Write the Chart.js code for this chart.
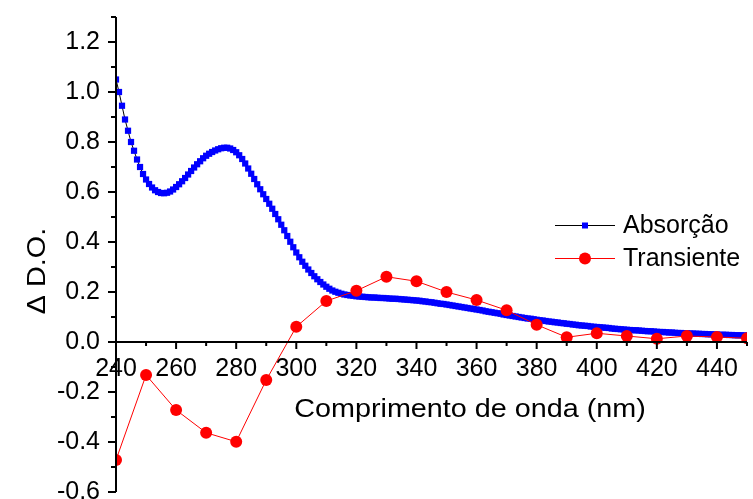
<!DOCTYPE html>
<html>
<head>
<meta charset="utf-8">
<script src="https://cdn.jsdelivr.net/npm/chart.js@4.4.1/dist/chart.umd.min.js"></script>
<style>
  html, body { margin: 0; padding: 0; background: #fff; }
  #wrap { width: 753px; height: 499px; position: relative; }
</style>
</head>
<body>
<div id="wrap"><canvas id="chart"></canvas></div>
<script>
const FONT = '"Liberation Sans", Arial, Helvetica, sans-serif';

// steady-state absorption, one reading per nm from 240 nm
const absStartNm = 240;
const absorbance = [
  1.050, 1.000, 0.945, 0.890, 0.845, 0.800, 0.765, 0.730, 0.700, 0.672,
  0.650, 0.632, 0.618, 0.607, 0.600, 0.596, 0.595, 0.597, 0.602, 0.610,
  0.620, 0.631, 0.643, 0.656, 0.670, 0.684, 0.698, 0.711, 0.723, 0.735,
  0.745, 0.753, 0.760, 0.766, 0.771, 0.775, 0.777, 0.777, 0.774, 0.768,
  0.759, 0.747, 0.732, 0.714, 0.694, 0.673, 0.652, 0.631, 0.611, 0.591,
  0.572, 0.553, 0.533, 0.512, 0.491, 0.469, 0.447, 0.424, 0.401, 0.379,
  0.358, 0.339, 0.321, 0.305, 0.290, 0.276, 0.263, 0.251, 0.240, 0.230,
  0.221, 0.213, 0.206, 0.201, 0.197, 0.193, 0.190, 0.188, 0.186, 0.185,
  0.183, 0.182, 0.181, 0.180, 0.179, 0.178, 0.178, 0.177, 0.176, 0.176,
  0.175, 0.174, 0.173, 0.173, 0.172, 0.171, 0.170, 0.169, 0.168, 0.167,
  0.166, 0.165, 0.163, 0.162, 0.160, 0.159, 0.157, 0.155, 0.153, 0.152,
  0.150, 0.148, 0.146, 0.144, 0.142, 0.140, 0.138, 0.136, 0.134, 0.132,
  0.130, 0.128, 0.126, 0.123, 0.121, 0.119, 0.117, 0.115, 0.113, 0.110,
  0.108, 0.106, 0.104, 0.102, 0.100, 0.098, 0.096, 0.094, 0.093, 0.091,
  0.089, 0.087, 0.086, 0.084, 0.082, 0.081, 0.079, 0.078, 0.076, 0.075,
  0.073, 0.072, 0.070, 0.069, 0.067, 0.066, 0.065, 0.064, 0.062, 0.061,
  0.060, 0.059, 0.058, 0.057, 0.056, 0.054, 0.053, 0.052, 0.051, 0.050,
  0.049, 0.048, 0.047, 0.047, 0.046, 0.045, 0.044, 0.043, 0.043, 0.042,
  0.041, 0.040, 0.040, 0.039, 0.038, 0.038, 0.037, 0.036, 0.036, 0.035,
  0.035, 0.034, 0.034, 0.033, 0.033, 0.032, 0.032, 0.031, 0.031, 0.030,
  0.030, 0.029, 0.029, 0.029, 0.028, 0.028, 0.027, 0.027, 0.027, 0.026,
  0.026
];

// transient spectrum, every 10 nm
const transWavelength = [240, 250, 260, 270, 280, 290, 300, 310, 320, 330, 340,
  350, 360, 370, 380, 390, 400, 410, 420, 430, 440, 450];
const transient = [-0.472, -0.132, -0.272, -0.363, -0.399, -0.152, 0.061, 0.164,
  0.205, 0.261, 0.243, 0.200, 0.168, 0.127, 0.069, 0.019, 0.035, 0.024, 0.013,
  0.024, 0.020, 0.015];

const xTicks = [240, 260, 280, 300, 320, 340, 360, 380, 400, 420, 440];
const xMinorTicks = [250, 270, 290, 310, 330, 350, 370, 390, 410, 430, 450];
const yTicks = [-0.6, -0.4, -0.2, 0.0, 0.2, 0.4, 0.6, 0.8, 1.0, 1.2];
const yMinorTicks = [-0.5, -0.3, -0.1, 0.1, 0.3, 0.5, 0.7, 0.9, 1.1, 1.3];

const seriesNames = ['Absorção', 'Transiente'];
const xTitle = 'Comprimento de onda (nm)';
const yTitle = 'Δ D.O.';

const absPoints = absorbance.map((v, i) => ({ x: absStartNm + i, y: v }));
const transPoints = transient.map((v, i) => ({ x: transWavelength[i], y: v }));

// axis lines, major/minor tick marks, titles and the legend box
const axesPlugin = {
  id: 'originAxes',
  afterDatasetsDraw(chart) {
    const { ctx, chartArea: a, scales: { x, y } } = chart;
    const y0 = y.getPixelForValue(0);
    ctx.save();
    ctx.strokeStyle = '#000';
    ctx.lineWidth = 2;
    ctx.beginPath();
    ctx.moveTo(a.left, a.top);
    ctx.lineTo(a.left, a.bottom);
    ctx.moveTo(a.left, y0);
    ctx.lineTo(a.right, y0);
    yTicks.forEach(v => { const p = y.getPixelForValue(v); ctx.moveTo(a.left - 8, p); ctx.lineTo(a.left, p); });
    yMinorTicks.forEach(v => { const p = y.getPixelForValue(v); ctx.moveTo(a.left - 5, p); ctx.lineTo(a.left, p); });
    xTicks.forEach(v => { const p = x.getPixelForValue(v); ctx.moveTo(p, y0); ctx.lineTo(p, y0 + 7); });
    xMinorTicks.forEach(v => { const p = x.getPixelForValue(v); ctx.moveTo(p, y0); ctx.lineTo(p, y0 + 4); });
    ctx.stroke();
    ctx.restore();
  },
  afterDraw(chart) {
    const { ctx } = chart;
    ctx.save();
    ctx.fillStyle = '#000';
    ctx.textBaseline = 'middle';
    ctx.font = '25px ' + FONT;
    ctx.textAlign = 'center';

    // axis titles are a little wider than the tick text
    ctx.save();
    ctx.translate(470, 410);
    ctx.scale(1.15, 1);
    ctx.fillText(xTitle, 0, 0);
    ctx.restore();

    ctx.save();
    ctx.translate(38, 271);
    ctx.rotate(-Math.PI / 2);
    ctx.scale(1.15, 1);
    ctx.fillText(yTitle, 0, 0);
    ctx.restore();

    // legend
    ctx.textAlign = 'left';
    ctx.lineWidth = 1;
    ctx.strokeStyle = '#000';
    ctx.beginPath(); ctx.moveTo(555, 225.5); ctx.lineTo(615, 225.5); ctx.stroke();
    ctx.fillStyle = '#0000ff';
    ctx.fillRect(582, 222.5, 6, 6);
    ctx.strokeStyle = '#ff0000';
    ctx.beginPath(); ctx.moveTo(555, 258.5); ctx.lineTo(615, 258.5); ctx.stroke();
    ctx.fillStyle = '#ff0000';
    ctx.beginPath(); ctx.arc(585, 258.5, 6, 0, Math.PI * 2); ctx.fill();
    ctx.fillStyle = '#000';
    ctx.fillText(seriesNames[0], 623, 226);
    ctx.fillText(seriesNames[1], 623, 259);
    ctx.restore();
  }
};

new Chart(document.getElementById('chart'), {
  type: 'line',
  data: {
    datasets: [
      {
        label: seriesNames[0],
        data: absPoints,
        order: 1,
        borderColor: '#000',
        borderWidth: 1,
        pointStyle: 'rect',
        pointRadius: 4.4,
        pointBorderWidth: 0,
        pointBackgroundColor: '#0000ff',
        pointBorderColor: '#0000ff'
      },
      {
        label: seriesNames[1],
        data: transPoints,
        order: 0,
        borderColor: '#ff0000',
        borderWidth: 1,
        pointStyle: 'circle',
        pointRadius: 6,
        pointBorderWidth: 0,
        pointBackgroundColor: '#ff0000',
        pointBorderColor: '#ff0000'
      }
    ]
  },
  options: {
    responsive: true,
    maintainAspectRatio: false,
    animation: false,
    events: [],
    layout: { padding: { top: 17, bottom: 7, left: 0, right: 0 } },
    plugins: { legend: { display: false }, tooltip: { enabled: false } },
    scales: {
      x: {
        type: 'linear',
        min: 240,
        max: 450,
        position: { y: 0 },
        afterBuildTicks: s => { s.ticks = xTicks.map(v => ({ value: v })); },
        afterFit: s => { s.paddingLeft = 0; s.paddingRight = 0; },
        grid: { display: false, drawTicks: false },
        border: { display: false },
        ticks: {
          padding: 12,
          maxRotation: 0,
          autoSkip: false,
          color: '#000',
          font: { family: FONT, size: 25 },
          callback: v => String(v)
        }
      },
      y: {
        type: 'linear',
        min: -0.6,
        max: 1.3,
        afterBuildTicks: s => { s.ticks = yTicks.map(v => ({ value: v })); },
        afterFit: s => { s.width = 116; s.paddingTop = 0; s.paddingBottom = 0; },
        grid: { display: false, drawTicks: false },
        border: { display: false },
        ticks: {
          padding: 16,
          autoSkip: false,
          color: '#000',
          font: { family: FONT, size: 25 },
          callback: v => v.toFixed(1)
        }
      }
    }
  },
  plugins: [axesPlugin]
});
</script>
</body>
</html>
